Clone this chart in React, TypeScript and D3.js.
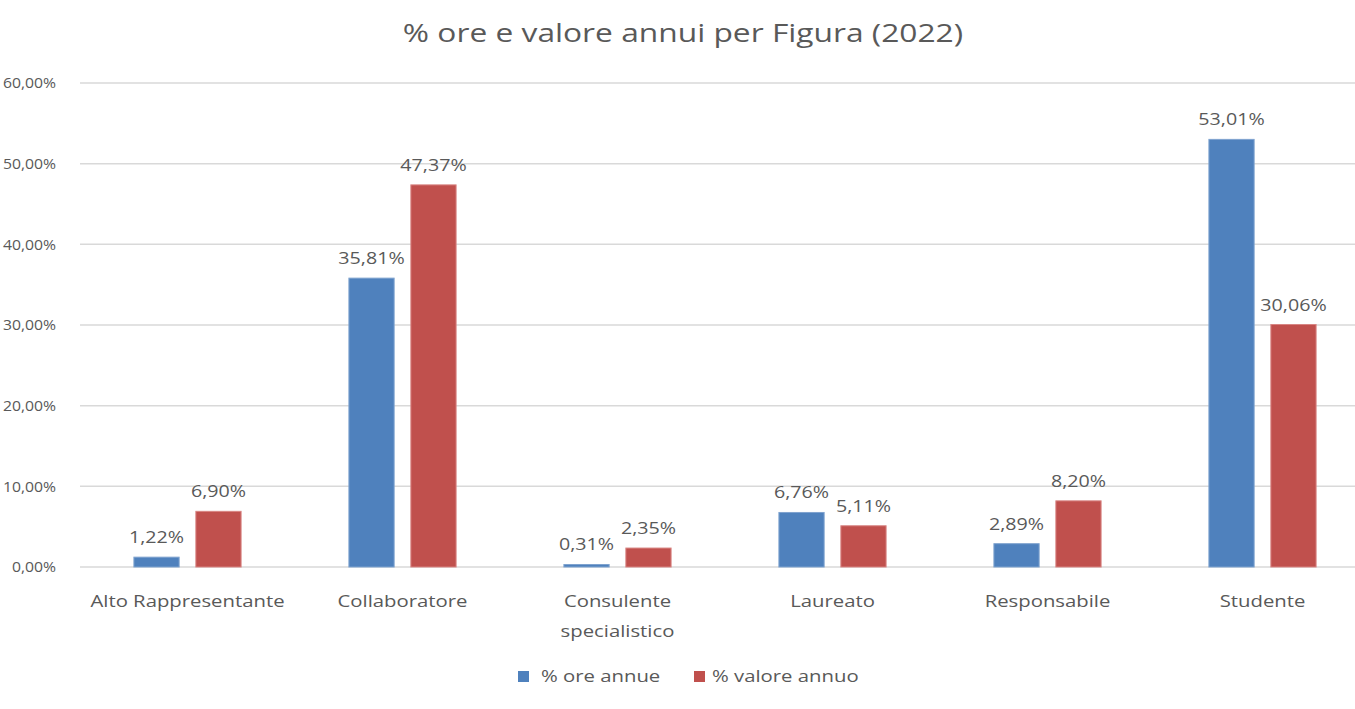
import React from 'react';
import * as d3 from 'd3';

const categories = [
  ['Alto Rappresentante'],
  ['Collaboratore'],
  ['Consulente', 'specialistico'],
  ['Laureato'],
  ['Responsabile'],
  ['Studente'],
];
const oreAnnue = [1.22, 35.81, 0.31, 6.76, 2.89, 53.01];
const valoreAnnuo = [6.9, 47.37, 2.35, 5.11, 8.2, 30.06];
const seriesNames = ['% ore annue', '% valore annuo'];
const yTicks = [0, 10, 20, 30, 40, 50, 60];

const width = 1355;
const height = 709;
const colors = ['#4F81BD', '#C0504D'];
const strokes = ['#7FA3CF', '#D88583'];
const textColor = '#595959';
const font = "'Open Sans', sans-serif";
const stretch = 1.27; // the source screenshot is widened horizontally

const fmt = (v: number) => v.toFixed(2).replace('.', ',') + '%';

// text drawn with the same horizontal stretch as the reference picture
const T = (props: { x: number; y: number; size: number; anchor?: string; dy?: string; sx?: number; children: any }) => (
  <text
    transform={`translate(${props.x},${props.y}) scale(${props.sx ?? stretch},1)`}
    dy={props.dy}
    textAnchor={props.anchor || 'start'}
    fontFamily={font}
    fontSize={props.size}
    fill={textColor}
  >
    {props.children}
  </text>
);

const App = () => {
  const margin = { top: 83, left: 80, bottom: 142 };
  const x0 = d3
    .scaleBand()
    .domain(d3.range(categories.length) as any)
    .range([margin.left, margin.left + 215 * categories.length]);
  const x1 = d3
    .scaleBand()
    .domain(['0', '1'])
    .range([0, x0.bandwidth()])
    .paddingInner(0.27)
    .paddingOuter(0.87);
  const y = d3
    .scaleLinear()
    .domain([0, 60])
    .range([height - margin.bottom, margin.top]);

  const series = [oreAnnue, valoreAnnuo];
  const labelW = 58;

  return (
    <div>
      <style>{'body{margin:0}'}</style>
      <svg width={width} height={height} style={{ display: 'block', background: '#fff' }}>
        <T x={683} y={42} size={25} anchor="middle">
          % ore e valore annui per Figura (2022)
        </T>

        {yTicks.map((t) => (
          <g key={t}>
            <line x1={margin.left} x2={width} y1={y(t)} y2={y(t)} stroke="#D9D9D9" strokeWidth={1.5} />
            <T x={56} y={y(t)} dy="0.35em" size={15} sx={1.05} anchor="end">
              {t},00%
            </T>
          </g>
        ))}

        {categories.map((c, i) => {
          const gx = x0(i as any) as number;
          return (
            <g key={i} transform={`translate(${gx},0)`}>
              {series.map((s, j) => (
                <rect
                  key={j}
                  x={x1(String(j)) as number}
                  y={y(s[i])}
                  width={x1.bandwidth()}
                  height={y(0) - y(s[i])}
                  fill={colors[j]}
                  stroke={strokes[j]}
                  strokeWidth={1}
                />
              ))}
              {series.map((s, j) => {
                const bx = (x1(String(j)) as number) + x1.bandwidth() / 2;
                let lx = bx;
                const ly = y(s[i]) - 14;
                if (j === 0) {
                  // Excel nudges overlapping labels aside
                  const ox = (x1('1') as number) + x1.bandwidth() / 2;
                  const oy = y(series[1][i]) - 14;
                  if (Math.abs(oy - ly) < 20 && ox - bx < labelW) lx = ox - labelW - 4;
                }
                return (
                  <T key={'l' + j} x={lx} y={ly} size={15.5} anchor="middle">
                    {fmt(s[i])}
                  </T>
                );
              })}
              {c.map((line, k) => (
                <T key={'c' + k} x={x0.bandwidth() / 2} y={607 + k * 30} size={16} anchor="middle">
                  {line}
                </T>
              ))}
            </g>
          );
        })}

        <rect x={518} y={671} width={11} height={11} fill={colors[0]} />
        <T x={541} y={682} size={16}>{seriesNames[0]}</T>
        <rect x={694} y={671} width={11} height={11} fill={colors[1]} />
        <T x={712} y={682} size={16}>{seriesNames[1]}</T>
      </svg>
    </div>
  );
};

export default App;
